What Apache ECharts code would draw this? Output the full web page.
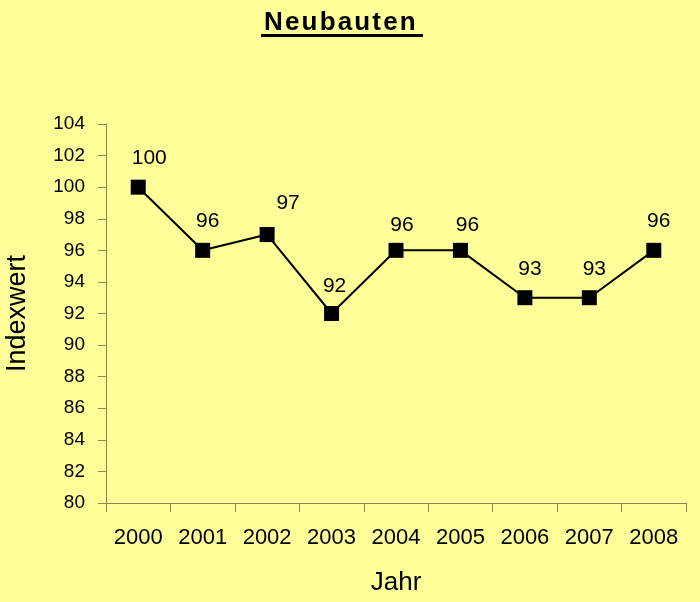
<!DOCTYPE html>
<html>
<head>
<meta charset="utf-8">
<script src="https://cdn.jsdelivr.net/npm/echarts@6/dist/echarts.min.js"></script>
<style>html,body{margin:0;padding:0;background:#FFFF99;}#c{width:700px;height:602px;}</style>
</head>
<body>
<div id="c"></div>
<script>
const years = ['2000','2001','2002','2003','2004','2005','2006','2007','2008'];
const values = [100, 96, 97, 92, 96, 96, 93, 93, 96];

const font = 'Liberation Sans, Arial, sans-serif';
const axisColor = '#8A8550';
// label nudges (label placement only)
const nudge = {0: [11, 0], 2: [21, 2], 3: [3, -2], 4: [6, -4], 5: [7, -4]};
const chart = echarts.init(document.getElementById('c'), null, {renderer: 'canvas'});
chart.setOption({
  backgroundColor: '#FFFF99',
  animation: false,
  title: {
    text: 'Neubauten'.split('').join('\u200A'), left: 259, top: 5,
    textStyle: {fontFamily: font, fontSize: 26, fontWeight: 'bold', color: '#000'}
  },
  graphic: [{type: 'rect', shape: {x: 261, y: 34, width: 162, height: 3}, style: {fill: '#000'}}],
  grid: {left: 106, right: 14, top: 124, bottom: 99, containLabel: false, outerBoundsMode: 'none'},
  xAxis: {
    type: 'category', data: years, boundaryGap: true,
    name: 'Jahr', nameLocation: 'middle', nameGap: 67,
    nameTextStyle: {fontFamily: font, fontSize: 26, color: '#000'},
    axisLine: {lineStyle: {color: axisColor, width: 1}},
    axisTick: {show: true, length: 9, interval: 0, lineStyle: {color: axisColor}},
    axisLabel: {fontFamily: font, fontSize: 22, color: '#000', margin: 24, interval: 0},
    splitLine: {show: false}
  },
  yAxis: {
    type: 'value', min: 80, max: 104, interval: 2,
    name: 'Indexwert', nameLocation: 'middle', nameGap: 75,
    nameTextStyle: {fontFamily: font, fontSize: 27, color: '#000'},
    axisLine: {show: true, lineStyle: {color: axisColor, width: 1}},
    axisTick: {show: true, length: 8, lineStyle: {color: axisColor}},
    axisLabel: {fontFamily: font, fontSize: 19, color: '#000', margin: 21},
    splitLine: {show: false}
  },
  series: [{
    type: 'line',
    data: values.map((v, i) => {
      const n = nudge[i] || [5, 0];
      return {value: v, label: {offset: [n[0], -n[1]]}};
    }),
    symbol: 'rect', symbolSize: 15,
    lineStyle: {color: '#000', width: 2},
    itemStyle: {color: '#000'},
    label: {show: true, position: 'top', distance: 11, fontFamily: font, fontSize: 21, color: '#000'}
  }]
});
</script>
</body>
</html>
